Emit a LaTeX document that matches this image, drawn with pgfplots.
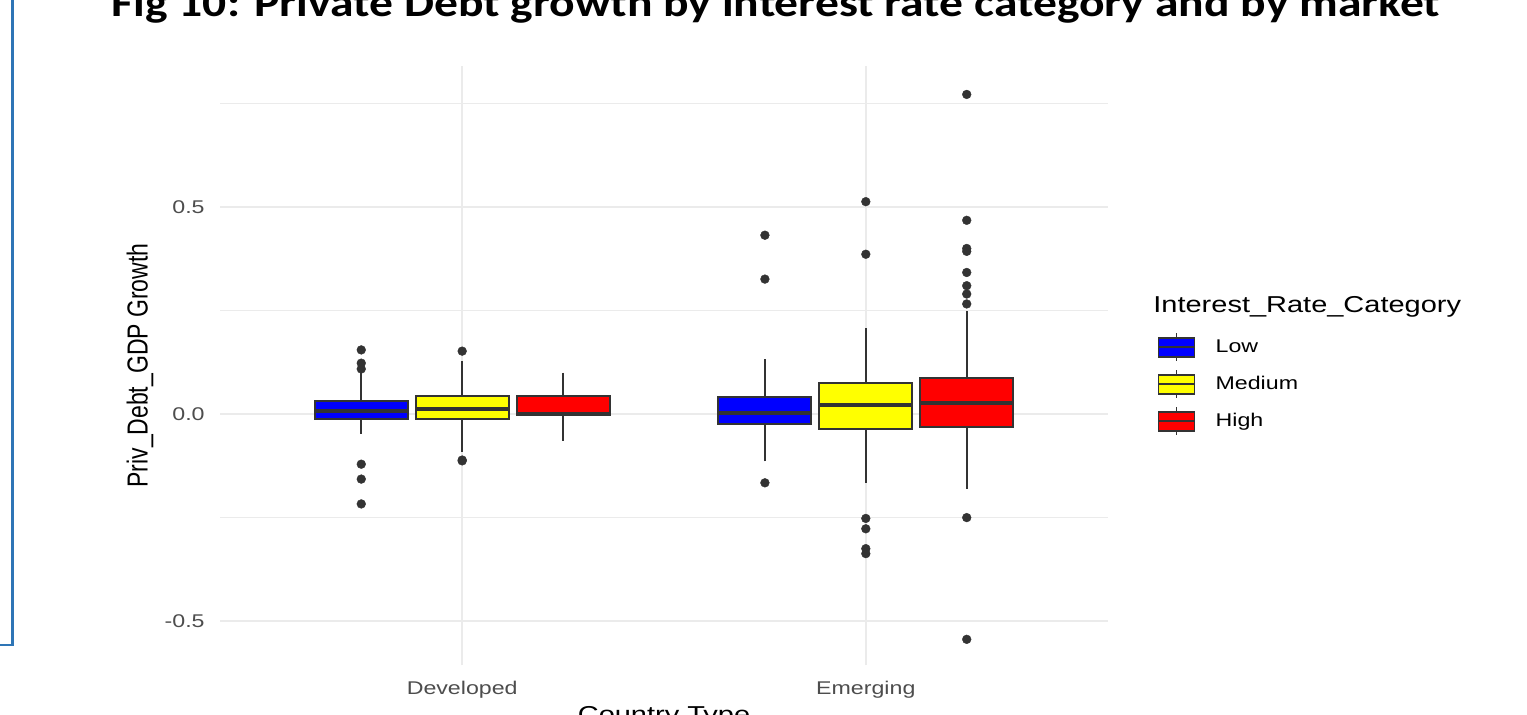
\documentclass[border=0pt]{standalone}
\usepackage{pgfplots}
\pgfplotsset{compat=1.18}
\usepgfplotslibrary{statistics}
\usepackage{graphicx}
\usepackage{fontspec}
\setmainfont{Liberation Sans}
\newfontfamily\titlefont{Carlito}

\definecolor{lowfill}{HTML}{0000FF}
\definecolor{medfill}{HTML}{FFFF00}
\definecolor{highfill}{HTML}{FF0000}
\definecolor{boxline}{HTML}{333333}
\definecolor{gridcol}{HTML}{EBEBEB}
\definecolor{tickcol}{HTML}{4D4D4D}
\definecolor{frameblue}{HTML}{2E75B6}

% text in this figure is set a little wider than its natural width
\newcommand{\wide}[1]{\scalebox{1.26}[1]{#1}}

% legend key: a small box with its median and whisker stubs
\newcommand{\keycode}[1]{%
  \draw[fill=#1, draw=boxline, line width=0.9pt] (0pt,-4.75pt) rectangle (18pt,4.75pt);
  \draw[boxline, line width=1.1pt] (0pt,0pt) -- (18pt,0pt);
  \draw[boxline, line width=0.9pt] (9pt,4.75pt) -- (9pt,7pt) (9pt,-4.75pt) -- (9pt,-7pt);
}

\pgfplotsset{
  ratebox/.style={
    boxplot/draw direction=y,
    boxplot/box extend=0.23,
    boxplot/whisker extend=0,
    boxplot/every median/.style={line width=1.9pt},
    draw=boxline, line width=1pt,
    mark=*, mark size=2.2pt,
    mark options={solid, fill=boxline, draw=boxline, line width=0.2pt},
  },
}

\begin{document}
\begin{tikzpicture}
\path[use as bounding box] (0pt,0pt) rectangle (763.5pt,357pt);
\fill[white] (0pt,0pt) rectangle (763.5pt,357pt);

\begin{axis}[
  at={(110pt,24.5pt)}, anchor=south west,
  scale only axis, width=444pt, height=299.5pt,
  xmin=0.4, xmax=2.6, ymin=-0.606, ymax=0.8406,
  axis line style={draw=none},
  xtick={1,2}, xticklabels={\wide{Developed},\wide{Emerging}},
  ytick={-0.5,0,0.5}, yticklabels={\wide{-0.5},\wide{0.0},\wide{0.5}},
  minor ytick={-0.25,0.25,0.75},
  major tick length=0pt, minor tick length=0pt,
  xmajorgrids, ymajorgrids, yminorgrids,
  major grid style={gridcol, line width=1pt},
  minor grid style={gridcol, line width=0.8pt},
  tick label style={font=\fontsize{9.2}{11}\selectfont, text=tickcol},
  yticklabel style={anchor=east, inner sep=0pt, xshift=-7.5pt},
  xticklabel style={anchor=north, inner sep=0pt, yshift=-7.7pt},
  xlabel={\wide{Country Type}},
  ylabel={Priv\_Debt\_GDP Growth},
  label style={font=\fontsize{11.5}{13}\selectfont},
  xlabel style={at={(axis description cs:0.5,-0.0685)}, anchor=north, inner sep=0pt},
  ylabel style={at={(axis description cs:-0.0901,0.5)}, anchor=center, inner sep=0pt, yscale=1.26},
  legend style={
    at={(axis description cs:1.0552,0.5559)}, anchor=north west,
    draw=none, fill=none, inner sep=0pt,
    font=\fontsize{9.2}{11}\selectfont,
    nodes={inner sep=0pt}, row sep=3.6pt, column sep=10pt,
    cells={anchor=west},
  },
  legend cell align=left,
]

% Developed
\addplot+[ratebox, fill=lowfill, forget plot, boxplot prepared={draw position=0.75,
  lower whisker=-0.048, lower quartile=-0.012, median=0.0065,
  upper quartile=0.031, upper whisker=0.099}]
  table[row sep=\\, y index=0] {data\\ 0.155\\ 0.123\\ 0.109\\ -0.121\\ -0.157\\ -0.217\\};
\addplot+[ratebox, fill=medfill, forget plot, boxplot prepared={draw position=1.0,
  lower whisker=-0.091, lower quartile=-0.011, median=0.013,
  upper quartile=0.044, upper whisker=0.129}]
  table[row sep=\\, y index=0] {data\\ 0.152\\ -0.111\\ -0.113\\};
\addplot+[ratebox, fill=highfill, forget plot, boxplot prepared={draw position=1.25,
  lower whisker=-0.064, lower quartile=-0.003, median=0.0,
  upper quartile=0.044, upper whisker=0.100}]
  coordinates {};

% Emerging
\addplot+[ratebox, fill=lowfill, forget plot, boxplot prepared={draw position=1.75,
  lower whisker=-0.114, lower quartile=-0.023, median=0.003,
  upper quartile=0.042, upper whisker=0.133}]
  table[row sep=\\, y index=0] {data\\ 0.432\\ 0.326\\ -0.166\\};
\addplot+[ratebox, fill=medfill, forget plot, boxplot prepared={draw position=2.0,
  lower whisker=-0.166, lower quartile=-0.036, median=0.021,
  upper quartile=0.074, upper whisker=0.207}]
  table[row sep=\\, y index=0] {data\\ 0.513\\ 0.386\\ -0.252\\ -0.277\\ -0.325\\ -0.337\\};
\addplot+[ratebox, fill=highfill, forget plot, boxplot prepared={draw position=2.25,
  lower whisker=-0.180, lower quartile=-0.030, median=0.027,
  upper quartile=0.086, upper whisker=0.250}]
  table[row sep=\\, y index=0] {data\\ 0.772\\ 0.468\\ 0.400\\ 0.393\\ 0.342\\ 0.310\\ 0.290\\ 0.266\\ -0.250\\ -0.544\\};

\addlegendimage{legend image code/.code={\keycode{lowfill}}}
\addlegendentry{\wide{Low}}
\addlegendimage{legend image code/.code={\keycode{medfill}}}
\addlegendentry{\wide{Medium}}
\addlegendimage{legend image code/.code={\keycode{highfill}}}
\addlegendentry{\wide{High}}
\end{axis}

\begin{scope}
\clip (0pt,0pt) rectangle (763.5pt,357pt);
\node[anchor=west, inner sep=0pt, font=\fontsize{11.5}{13}\selectfont]
  at (576.5pt,203.5pt) {\wide{Interest\_Rate\_Category}};

\node[anchor=base, inner sep=0pt] at (388pt,348.5pt)
  {\resizebox{664pt}{\height}{\titlefont\bfseries\fontsize{20}{23}\selectfont
   Fig 10: Private Debt growth by interest rate category and by market}};

\draw[frameblue, line width=1.3pt] (0pt,34.5pt) -- (6.35pt,34.5pt) -- (6.35pt,360pt);
\end{scope}
\end{tikzpicture}
\end{document}
